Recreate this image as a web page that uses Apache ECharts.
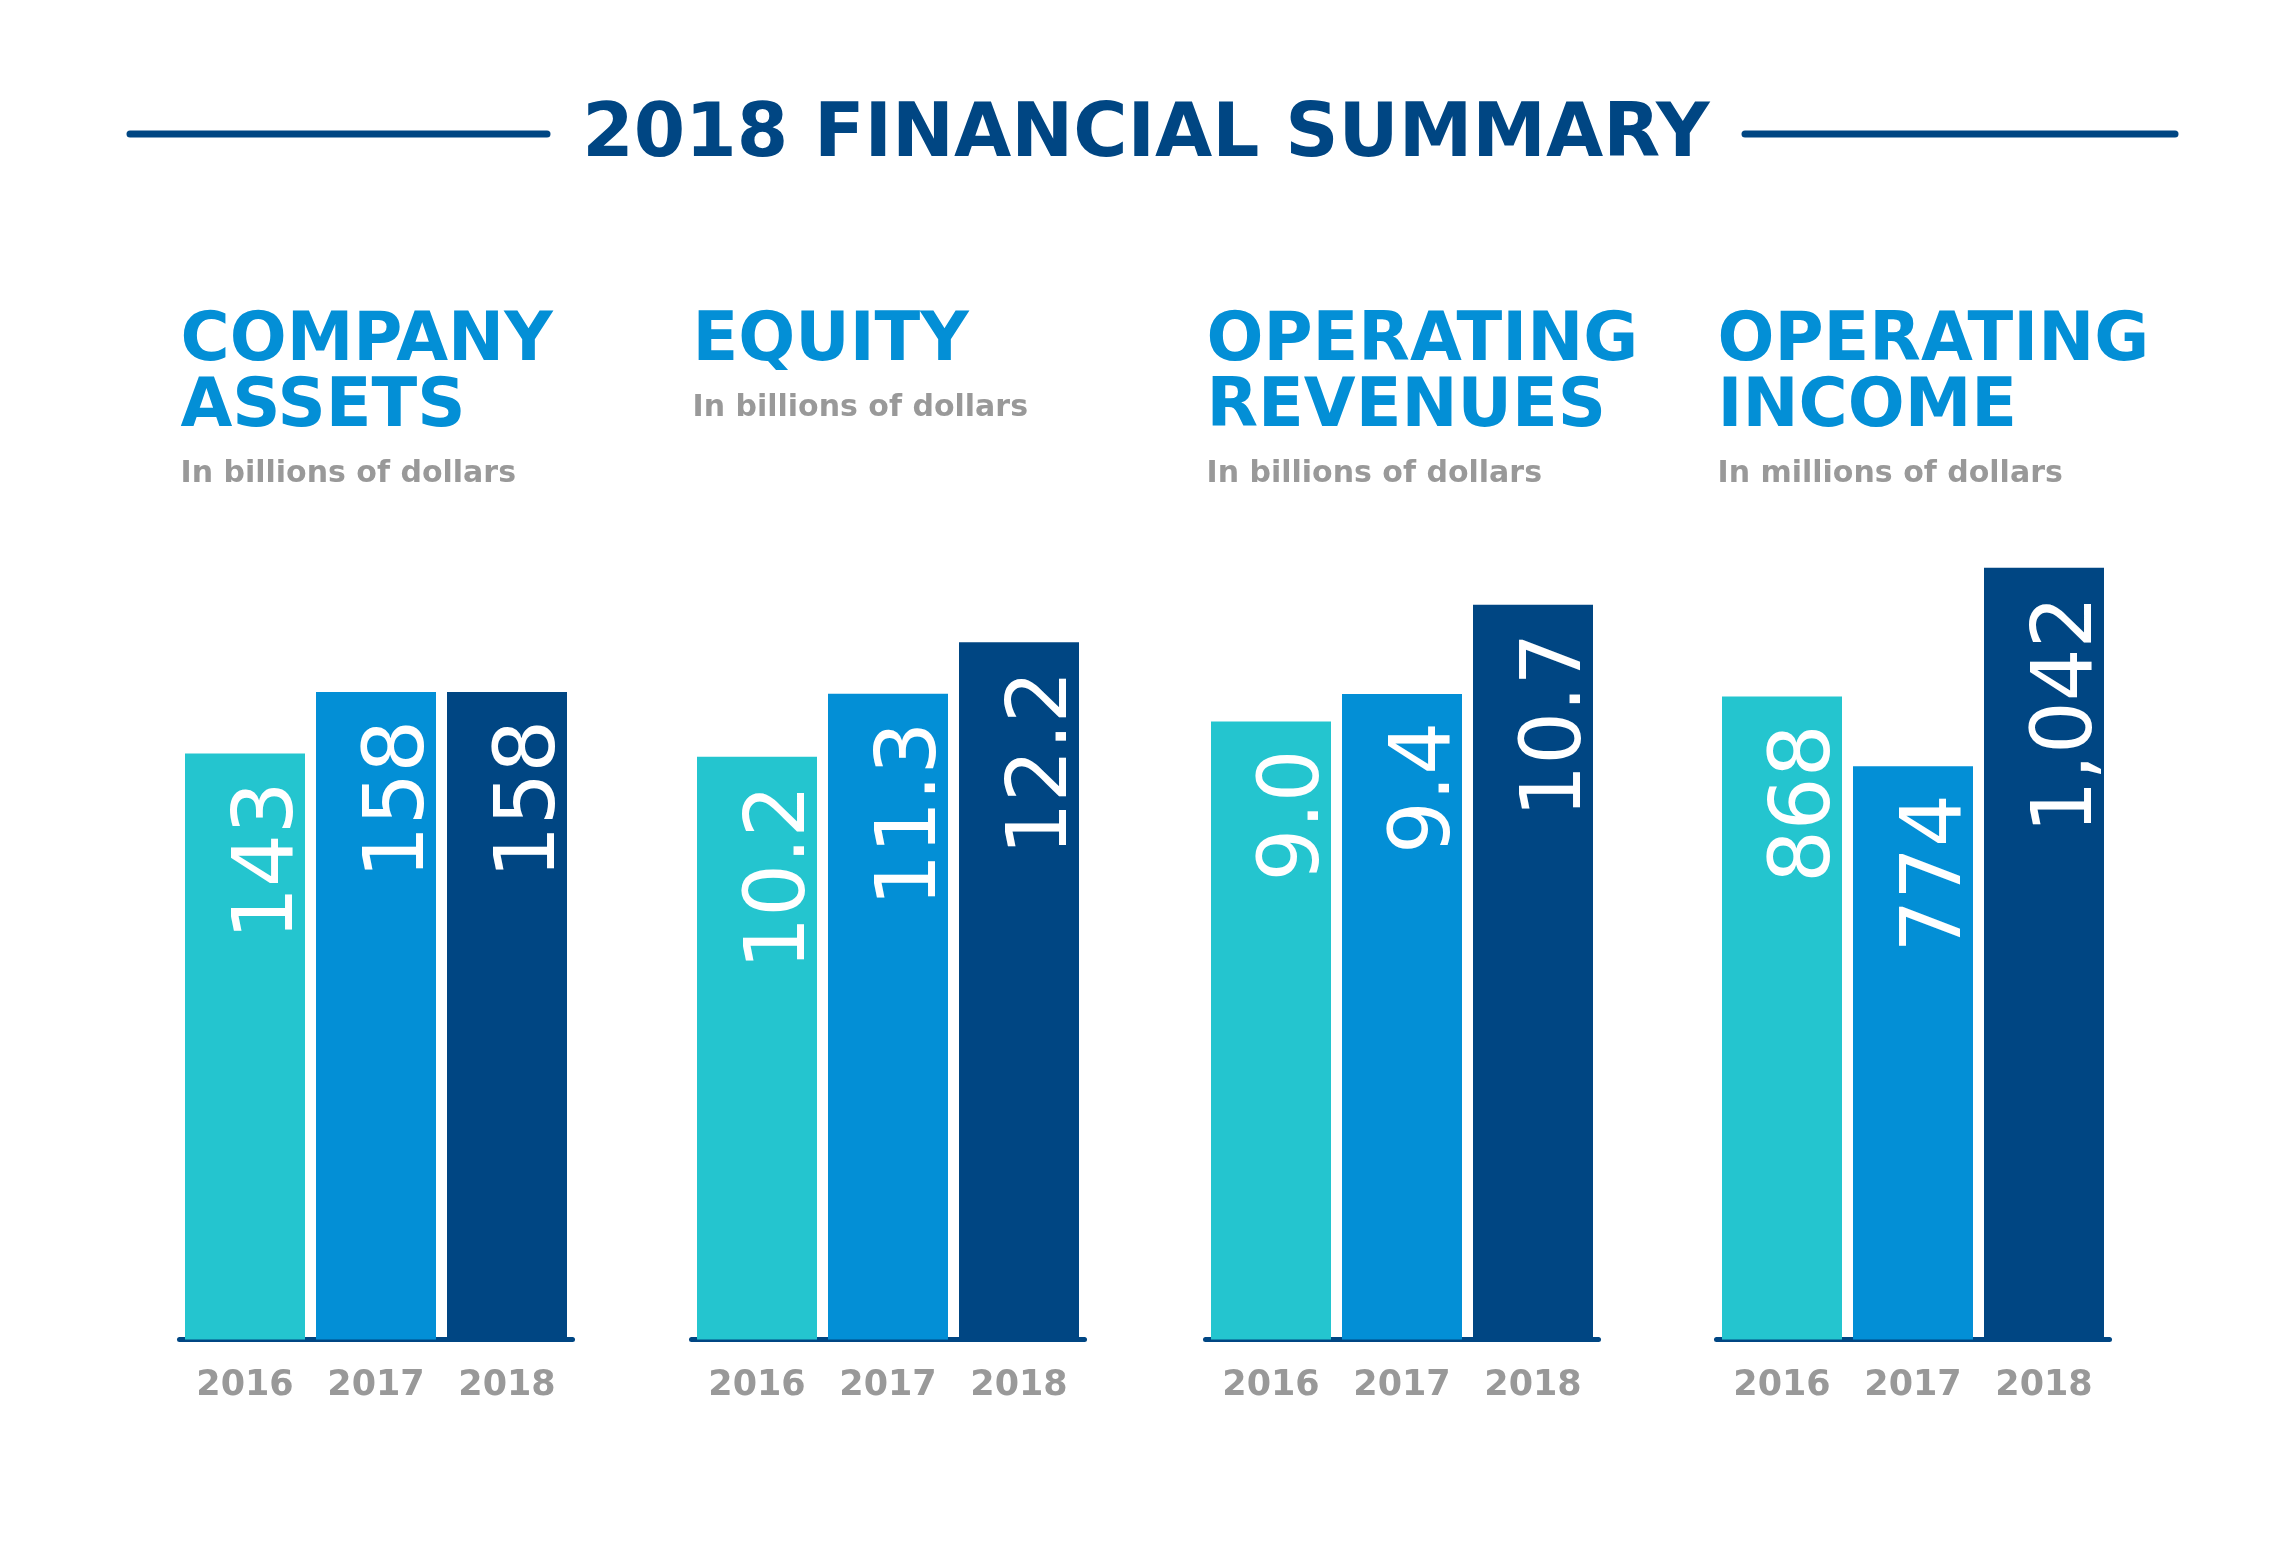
<!DOCTYPE html>
<html>
<head>
<meta charset="utf-8">
<script src="https://cdn.jsdelivr.net/npm/echarts@6/dist/echarts.min.js"></script>
<style>
  html, body { margin: 0; padding: 0; background: #ffffff; }
  #chart { width: 2292px; height: 1542px; }
</style>
</head>
<body>
<div id="chart"></div>
<script>
// ---- data ----
const years = ['2016', '2017', '2018'];
const companyAssets = [143, 158, 158];        // billions
const equity = [10.2, 11.3, 12.2];            // billions
const operatingRevenues = [9.0, 9.4, 10.7];   // billions
const operatingIncome = [868, 774, 1042];     // millions
const panelTitles = ['COMPANY\nASSETS', 'EQUITY', 'OPERATING\nREVENUES', 'OPERATING\nINCOME'];
const panelUnits = ['In billions of dollars', 'In billions of dollars', 'In billions of dollars', 'In millions of dollars'];
const panelDecimals = [0, 1, 1, 0];
const panelMax = [195.2, 14.0, 11.65, 1080];
const mainTitle = '2018 FINANCIAL SUMMARY';

// ---- styles ----
const barColors = ['#24C5CF', '#038FD6', '#004683'];
const navy = '#004683';
const blue = '#038FD6';
const gray = '#999999';
const font = 'DejaVu Sans';

const panelSeries = [companyAssets, equity, operatingRevenues, operatingIncome];
const gridLefts = [179.5, 691.5, 1205.5, 1716.5];
const gridWidth = 393;
const gridTop = 539.5;
const gridHeight = 800;

const grids = [], xAxes = [], yAxes = [], series = [], titles = [];

titles.push({
  text: mainTitle,
  left: 'center',
  top: 100,
  padding: 0,
  textStyle: { fontFamily: font, fontSize: 74, fontWeight: 'bold', color: navy }
});

panelSeries.forEach((vals, i) => {
  grids.push({ left: gridLefts[i], top: gridTop, width: gridWidth, height: gridHeight });
  xAxes.push({
    type: 'category', gridIndex: i, data: years,
    axisLine: { show: true, lineStyle: { color: navy, width: 5 } },
    axisTick: { show: false },
    axisLabel: { fontFamily: font, fontSize: 35, fontWeight: 'bold', color: gray, margin: 29 },
    splitLine: { show: false }
  });
  yAxes.push({ type: 'value', gridIndex: i, min: 0, max: panelMax[i], show: false });
  const d = panelDecimals[i];
  series.push({
    type: 'bar', xAxisIndex: i, yAxisIndex: i,
    barWidth: 120,
    data: vals.map((v, j) => ({ value: v, itemStyle: { color: barColors[j] } })),
    label: {
      show: true, position: 'insideTop', distance: 28, rotate: 90,
      align: 'right', verticalAlign: 'middle', offset: [0, 25],
      fontFamily: font, fontSize: 83, color: '#ffffff',
      formatter: p => p.value.toLocaleString('en-US', { minimumFractionDigits: d, maximumFractionDigits: d })
    },
    silent: true, animation: false
  });
  titles.push({
    text: panelTitles[i],
    subtext: panelUnits[i],
    left: gridLefts[i] + 1,
    top: 310,
    padding: 0,
    itemGap: 16,
    textStyle: { fontFamily: font, fontSize: 67, fontWeight: 'bold', color: blue, lineHeight: 66 },
    subtextStyle: { fontFamily: font, fontSize: 30, fontWeight: 'bold', color: gray }
  });
});

const chart = echarts.init(document.getElementById('chart'), null, { renderer: 'canvas' });
chart.setOption({
  backgroundColor: '#ffffff',
  animation: false,
  title: titles,
  grid: grids,
  xAxis: xAxes,
  yAxis: yAxes,
  series: series,
  graphic: [
    { type: 'line', shape: { x1: 130, y1: 134, x2: 547, y2: 134 }, style: { stroke: navy, lineWidth: 7, lineCap: 'round' }, silent: true },
    { type: 'line', shape: { x1: 1745, y1: 134, x2: 2175, y2: 134 }, style: { stroke: navy, lineWidth: 7, lineCap: 'round' }, silent: true }
  ]
});
</script>
</body>
</html>
